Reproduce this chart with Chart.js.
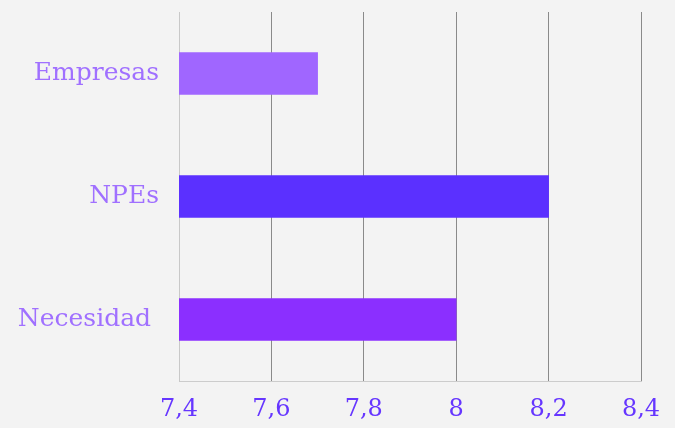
<!DOCTYPE html>
<html>
<head>
<meta charset="utf-8">
<script src="https://cdn.jsdelivr.net/npm/chart.js@4"></script>
<style>
  html, body { margin: 0; padding: 0; background: #f3f3f3; }
  #wrap { width: 675px; height: 428px; }
</style>
</head>
<body>
<div id="wrap"><canvas id="c"></canvas></div>
<script>
const categories = ['Empresas', 'NPEs', 'Necesidad '];
const values = [7.7, 8.2, 8.0];
const barColors = ['#a066ff', '#5b30ff', '#8b2fff'];
const tickValues = [7.4, 7.6, 7.8, 8.0, 8.2, 8.4];

const serif = "'DejaVu Serif', 'Liberation Serif', serif";

new Chart(document.getElementById('c'), {
  type: 'bar',
  data: {
    labels: categories,
    datasets: [{
      data: values,
      backgroundColor: barColors,
      barThickness: 42,
      borderWidth: 0
    }]
  },
  options: {
    indexAxis: 'y',
    responsive: true,
    maintainAspectRatio: false,
    animation: false,
    layout: { padding: { top: 12, right: 34, left: 0, bottom: 4 } },
    plugins: { legend: { display: false }, tooltip: { enabled: false } },
    scales: {
      x: {
        min: 7.4,
        max: 8.4,
        afterBuildTicks: (axis) => { axis.ticks = tickValues.map(v => ({ value: v })); },
        afterFit: (axis) => { axis.height = 43; axis.paddingLeft = 0; axis.paddingRight = 0; },
        grid: {
          color: (ctx) => ctx.index === 0 ? '#c8c8c8' : '#8a8a8a',
          lineWidth: 1,
          drawTicks: false
        },
        border: { display: true, color: '#cccccc', width: 1 },
        ticks: {
          padding: 14,
          color: '#6636ff',
          font: { family: serif, size: 24 },
          callback: (v) => String(Math.round(v * 10) / 10).replace('.', ',')
        }
      },
      y: {
        grid: { display: false, drawTicks: false },
        border: { display: true, color: '#c8c8c8', width: 1 },
        afterFit: (axis) => { axis.width = 179; axis.paddingTop = 0; axis.paddingBottom = 0; },
        ticks: {
          padding: 20,
          color: '#a070ff',
          font: { family: serif, size: 25 }
        }
      }
    }
  }
});
</script>
</body>
</html>
